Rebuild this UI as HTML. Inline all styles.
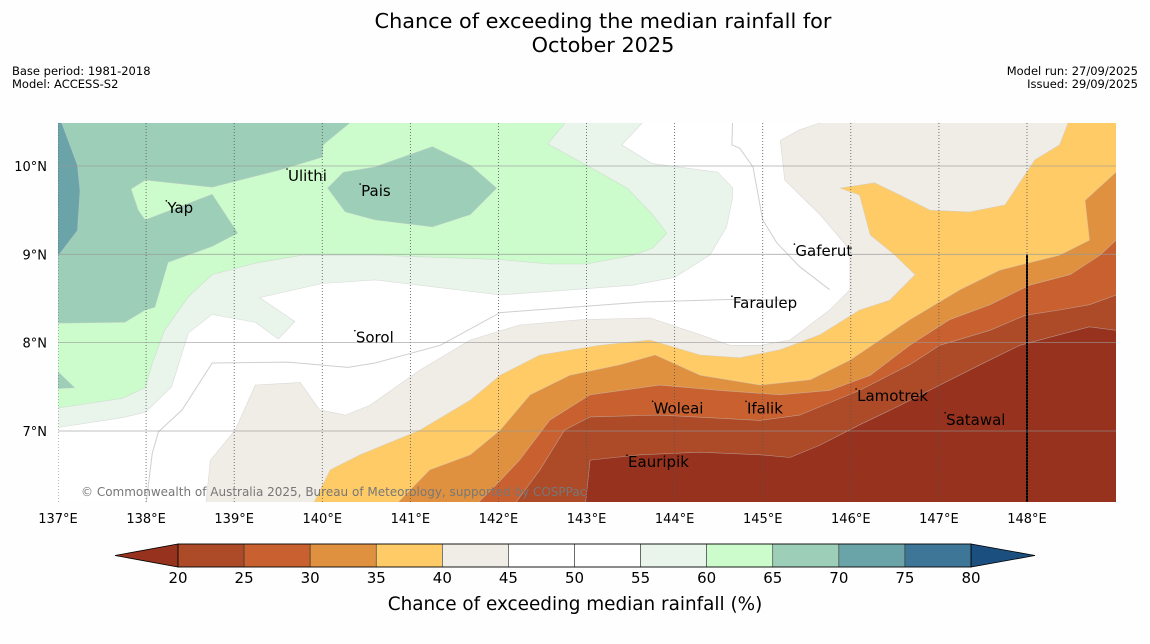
<!DOCTYPE html>
<html><head><meta charset="utf-8">
<style>
body{margin:0;background:#fff;}
svg{display:block;font-family:"DejaVu Sans","Liberation Sans",sans-serif;}
</style></head>
<body>
<svg id="chart" width="1150" height="644" viewBox="0 0 1150 644" xmlns="http://www.w3.org/2000/svg">
<rect width="1150" height="644" fill="#fefefe"/>
<text x="603" y="28" text-anchor="middle" font-size="20.8" fill="#000">Chance of exceeding the median rainfall for</text>
<text x="603" y="52" text-anchor="middle" font-size="20.8" fill="#000">October 2025</text>
<text x="12" y="75" font-size="11.5">Base period: 1981-2018</text>
<text x="12" y="88" font-size="11.5">Model: ACCESS-S2</text>
<text x="1138" y="75" font-size="11.5" text-anchor="end">Model run: 27/09/2025</text>
<text x="1138" y="88" font-size="11.5" text-anchor="end">Issued: 29/09/2025</text>
<defs><clipPath id="mapclip"><rect x="58" y="123" width="1058" height="379"/></clipPath></defs>
<g id="map" clip-path="url(#mapclip)">
<rect x="58" y="123" width="1058" height="379" fill="#ffffff"/>
<g id="fills"></g>
<g id="lines"></g>
<g id="grid"></g>
</g>
<g id="axes"></g>
<g id="places"></g>
<text x="81" y="496" font-size="12" fill="#777">© Commonwealth of Australia 2025, Bureau of Meteorology, supported by COSPPac</text>
<g id="colorbar"></g>
<text x="575" y="610" text-anchor="middle" font-size="18.4">Chance of exceeding median rainfall (%)</text>
</svg>
<script>
// colorbar data
const cbLevels = [20,25,30,35,40,45,50,55,60,65,70,75,80];
const cbColors = ["#ad4a28","#c8612f","#e0913f","#ffcb66","#f0ece6","#ffffff","#ffffff","#e9f5ea","#ccfccc","#9dcfb8","#6aa4a8","#3e7698"];
const cbUnder = "#96321e";
const cbOver = "#1a4f80";
// map axis ticks
const lonTicks = [137,138,139,140,141,142,143,144,145,146,147,148];
const latTicks = [10,9,8,7];
// contour regions (lon,lat) in painter order
const regionColors = ["#f0ece6","#ffcb66","#e0913f","#c8612f","#ad4a28","#96321e","#e9f5ea","#ccfccc","#9dcfb8","#9dcfb8","#9dcfb8","#6aa4a8"];
const regBelow45 = [[138.67,6.1],[138.73,6.67],[139.01,7.01],[139.24,7.52],[139.75,7.55],[139.97,7.24],[140.26,7.18],[140.54,7.29],[141.11,7.69],[141.68,8.03],[142.24,8.2],[142.93,8.26],[143.72,8.28],[144.29,8.09],[144.63,7.97],[144.97,7.97],[145.31,8.03],[145.76,8.37],[145.99,8.6],[145.99,9.05],[145.65,9.45],[145.25,9.84],[145.2,10.29],[145.42,10.41],[145.99,10.6],[148.49,10.6],[149.1,10.6],[149.1,6.1]];
const regBelow40 = [[139.86,6.1],[140.09,6.56],[140.43,6.73],[141.11,7.01],[141.68,7.35],[142.02,7.63],[142.47,7.86],[143.15,7.97],[143.72,8.03],[144.29,7.86],[144.74,7.83],[145.2,7.92],[145.65,8.09],[146.1,8.37],[146.44,8.48],[146.73,8.77],[146.5,8.99],[146.22,9.22],[146.1,9.67],[145.88,9.75],[146.27,9.81],[146.56,9.67],[146.9,9.5],[147.35,9.48],[147.75,9.56],[148.09,10.07],[148.37,10.24],[148.51,10.6],[149.1,10.6],[149.1,6.1]];
const regBelow35 = [[140.77,6.1],[141.22,6.56],[141.68,6.73],[142.02,7.01],[142.36,7.41],[142.81,7.63],[143.38,7.75],[143.78,7.86],[144.29,7.63],[144.97,7.52],[145.54,7.58],[145.99,7.8],[146.33,8.03],[146.67,8.26],[147.24,8.6],[147.69,8.82],[148.37,8.99],[148.71,9.16],[148.66,9.61],[149.01,9.93],[149.1,9.93],[149.1,6.1]];
const regBelow30 = [[141.68,6.1],[142.02,6.44],[142.24,6.67],[142.58,7.12],[143.04,7.41],[143.83,7.52],[144.51,7.46],[145.2,7.41],[145.76,7.46],[146.22,7.63],[146.67,7.97],[147.12,8.26],[147.58,8.43],[148.03,8.65],[148.49,8.77],[148.83,8.99],[149.01,9.16],[149.1,9.16],[149.1,6.1]];
const regBelow25 = [[142.13,6.1],[142.47,6.56],[142.75,7.01],[143.04,7.16],[143.83,7.18],[144.97,7.12],[145.42,7.18],[146.1,7.46],[146.67,7.75],[147.01,7.97],[147.58,8.14],[147.98,8.31],[148.37,8.37],[148.71,8.43],[149.01,8.54],[149.1,8.54],[149.1,6.1]];
const regBelow20 = [[142.98,6.1],[143.04,6.67],[143.61,6.73],[144.29,6.76],[144.97,6.73],[145.31,6.7],[145.65,6.84],[146.1,7.07],[146.56,7.29],[147.01,7.52],[147.47,7.75],[147.92,7.97],[148.37,8.09],[148.71,8.18],[149.01,8.14],[149.1,8.14],[149.1,6.1]];
const regAbove55 = [[142.87,10.6],[143.74,10.6],[143.4,10.24],[143.74,10.03],[144.49,9.93],[144.66,9.75],[144.66,9.65],[144.59,9.31],[144.4,8.99],[144.0,8.74],[143.53,8.65],[142.02,8.54],[140.6,8.71],[140.0,8.67],[139.29,8.51],[139.69,8.24],[139.5,8.04],[139.24,8.23],[138.75,8.32],[138.48,8.11],[138.29,7.5],[137.99,7.21],[137.73,7.15],[137.0,7.04],[136.9,7.04],[136.9,10.6]];
const regAbove60 = [[142.85,10.6],[142.56,10.25],[143.0,10.01],[143.46,9.75],[143.75,9.45],[143.91,9.24],[143.75,9.07],[143.53,8.99],[143.0,8.89],[142.58,8.89],[142.02,8.94],[140.6,8.99],[139.77,8.99],[139.24,8.9],[138.75,8.77],[138.48,8.52],[138.21,8.14],[138.07,7.77],[137.99,7.49],[137.73,7.37],[137.0,7.26],[136.9,7.26],[136.9,10.6]];
const regAbove65 = [[140.45,10.6],[140.01,10.24],[140.0,10.1],[139.5,9.95],[138.75,9.76],[137.99,9.84],[137.83,9.74],[137.91,9.5],[137.99,9.39],[138.75,9.68],[139.04,9.24],[138.75,9.09],[138.25,8.91],[138.1,8.4],[137.99,8.37],[137.76,8.23],[137.0,8.22],[136.9,8.22],[136.9,10.6]];
const regAbove65b = [[136.9,7.67],[137.0,7.67],[137.19,7.49],[137.0,7.48],[136.9,7.48]];
const regAbove65c = [[140.06,9.75],[140.24,9.93],[140.6,9.99],[141.25,10.22],[141.68,10.01],[141.98,9.75],[141.68,9.45],[141.25,9.31],[140.6,9.39],[140.26,9.48]];
const regAbove70 = [[136.9,10.6],[137.0,10.6],[137.22,10.01],[137.25,9.72],[137.22,9.27],[137.0,8.98],[136.9,8.98]];
const regions = [regBelow45,regBelow40,regBelow35,regBelow30,regBelow25,regBelow20,regAbove55,regAbove60,regAbove65,regAbove65b,regAbove65c,regAbove70];
const regionNames = ["region-below-45","region-below-40","region-below-35","region-below-30","region-below-25","region-below-20","region-above-55","region-above-60","region-above-65","region-above-65-sw","region-above-65-pais","region-above-70"];
const line50a = [[137.99,6.1],[138.07,6.75],[138.14,6.99],[138.41,7.24],[138.75,7.77],[139.61,7.78],[140.29,7.72],[140.6,7.77],[141.34,7.97],[142.02,8.34],[143.64,8.46],[144.66,8.49],[145.31,8.48]];
const line50b = [[144.66,10.6],[144.65,10.24],[144.74,10.2],[144.89,9.99],[145.0,9.39],[145.16,9.13],[145.42,8.86],[145.76,8.6]];
const placeNames = ["Yap","Ulithi","Pais","Gaferut","Faraulep","Sorol","Woleai","Ifalik","Lamotrek","Satawal","Eauripik"];
const placeLon = [138.23,139.6,140.43,145.36,144.65,140.37,143.75,144.81,146.06,147.07,143.46];
const placeLat = [9.47,9.83,9.66,8.98,8.39,8.0,7.2,7.2,7.34,7.07,6.59];
const divider = [[148,9],[148,6.1]];

const NS="http://www.w3.org/2000/svg";
const X = lon => 58 + (lon-137)*88.09;
const Y = lat => 166 + (10-lat)*88.33;
function mk(tag, attrs, parent){const e=document.createElementNS(NS,tag);for(const k in attrs)e.setAttribute(k,attrs[k]);parent.appendChild(e);return e;}
const pts = arr => arr.map(p=>X(p[0]).toFixed(1)+","+Y(p[1]).toFixed(1)).join(" ");

const fills=document.getElementById("fills");
regions.forEach((r,i)=>{
  const p=mk("polygon",{points:pts(r),fill:regionColors[i],stroke:"#c8c8c8","stroke-width":0.6,"stroke-opacity":0.6},fills);
  
  
});
const lines=document.getElementById("lines");
[line50a,line50b].forEach((l,i)=>{
  const p=mk("polyline",{points:pts(l),fill:"none",stroke:"#cfcfcf","stroke-width":1},lines);
  
  
});
const dv=mk("polyline",{points:pts(divider),stroke:"#000","stroke-width":2,fill:"none"},lines);



const grid=document.getElementById("grid");
lonTicks.forEach(l=>{
  const g=mk("line",{x1:X(l),x2:X(l),y1:123,y2:502,stroke:"#555","stroke-width":0.8,"stroke-dasharray":"1,2"},grid);
  
  
});
latTicks.forEach(l=>{
  const g=mk("line",{x1:58,x2:1116,y1:Y(l),y2:Y(l),stroke:"#999","stroke-width":0.8,"stroke-opacity":0.8},grid);
  
  
});
const axes=document.getElementById("axes");
lonTicks.forEach(l=>{
  const t=mk("text",{x:X(l),y:523,"text-anchor":"middle","font-size":13},axes);
  t.textContent=l+"°E";
  
  
});
latTicks.forEach(l=>{
  const t=mk("text",{x:47,y:Y(l)+5,"text-anchor":"end","font-size":13},axes);
  t.textContent=l+"°N";
  
  
});
const places=document.getElementById("places");
placeNames.forEach((n,i)=>{
  const x=X(placeLon[i]), y=Y(placeLat[i]);
  const d=mk("circle",{cx:x,cy:y-12,r:0.8,fill:"#000"},places);
  
  
  const t=mk("text",{x:x+1,y:y,"font-size":15},places);
  t.textContent=n;
  
  
});

// colorbar
const cb=document.getElementById("colorbar");
const cbX0=178, cbX1=971, cbY=544, cbH=23;
const CX = v => cbX0 + (v-cbLevels[0])/(cbLevels[cbLevels.length-1]-cbLevels[0])*(cbX1-cbX0);
const lt=mk("polygon",{points:`${cbX0},${cbY} ${cbX0},${cbY+cbH} 115,${cbY+cbH/2}`,fill:cbUnder,stroke:"#000","stroke-width":0.8},cb);


const rt=mk("polygon",{points:`${cbX1},${cbY} ${cbX1},${cbY+cbH} 1035,${cbY+cbH/2}`,fill:cbOver,stroke:"#000","stroke-width":0.8},cb);


cbColors.forEach((c,i)=>{
  const r=mk("rect",{x:CX(cbLevels[i]),y:cbY,width:CX(cbLevels[i+1])-CX(cbLevels[i]),height:cbH,fill:c,stroke:"#333","stroke-width":0.6},cb);
  
  
});
const fr=mk("rect",{x:cbX0,y:cbY,width:cbX1-cbX0,height:cbH,fill:"none",stroke:"#000","stroke-width":0.8},cb);


cbLevels.forEach(v=>{
  const t=mk("text",{x:CX(v),y:583,"text-anchor":"middle","font-size":15},cb);
  t.textContent=v;
  
  
});
</script>
</body></html>
